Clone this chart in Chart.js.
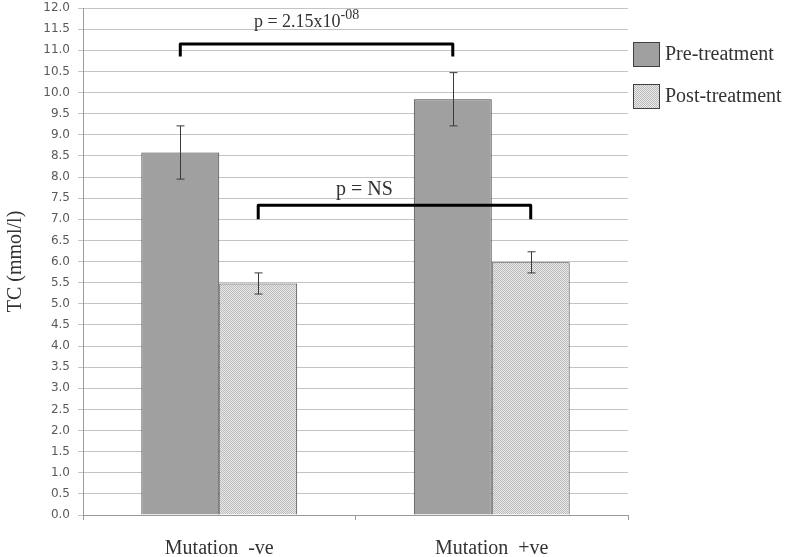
<!DOCTYPE html>
<html>
<head>
<meta charset="utf-8">
<script src="https://cdn.jsdelivr.net/npm/chart.js@4"></script>
<style>
  html, body { margin: 0; padding: 0; background: #fff; }
  #wrap { width: 790px; height: 557px; }
</style>
</head>
<body>
<div id="wrap"><canvas id="tcChart" width="790" height="557"></canvas></div>
<script>
const categories = ["Mutation  -ve", "Mutation  +ve"];
const preValues = [8.58, 9.84];
const preErrors = [0.63, 0.63];
const postValues = [5.48, 5.98];
const postErrors = [0.25, 0.25];

// significance brackets: [dataset, category] at each end, heights in mmol/l
const bracketFrom = [[0, 0], [1, 0]];
const bracketTo = [[0, 1], [1, 1]];
const bracketTop = [11.15, 7.33];
const bracketLeg = [10.85, 7.0];
const bracketText = ["p = 2.15x10", "p = NS"];
const bracketSup = ["-08", ""];
const bracketTextY = [11.66, 7.7];

const serif = "'Liberation Serif', 'Times New Roman', serif";
const sans = "'DejaVu Sans', Verdana, sans-serif";

function dotPattern() {
  const pc = document.createElement("canvas");
  pc.width = 2;
  pc.height = 2;
  const g = pc.getContext("2d");
  g.fillStyle = "#ececec";
  g.fillRect(0, 0, 2, 2);
  g.fillStyle = "#b8b8b8";
  g.fillRect(0, 0, 1, 1);
  g.fillRect(1, 1, 1, 1);
  return g.createPattern(pc, "repeat");
}

const postFill = dotPattern();

const errorBars = {
  id: "errorBars",
  afterDatasetsDraw(chart) {
    const { ctx } = chart;
    const y = chart.scales.y;
    const sets = [[preValues, preErrors], [postValues, postErrors]];
    ctx.save();
    ctx.strokeStyle = "#3a3a3a";
    ctx.lineWidth = 1;
    sets.forEach(([vals, errs], i) => {
      chart.getDatasetMeta(i).data.forEach((bar, j) => {
        const x = Math.round(bar.x) + 0.5;
        const hi = y.getPixelForValue(vals[j] + errs[j]);
        const lo = y.getPixelForValue(vals[j] - errs[j]);
        ctx.beginPath();
        ctx.moveTo(x, hi);
        ctx.lineTo(x, lo);
        ctx.moveTo(x - 4, hi);
        ctx.lineTo(x + 4, hi);
        ctx.moveTo(x - 4, lo);
        ctx.lineTo(x + 4, lo);
        ctx.stroke();
      });
    });
    ctx.restore();
  },
};

const brackets = {
  id: "brackets",
  afterDatasetsDraw(chart) {
    const { ctx } = chart;
    const y = chart.scales.y;
    ctx.save();
    bracketFrom.forEach((from, k) => {
      const to = bracketTo[k];
      const x1 = chart.getDatasetMeta(from[0]).data[from[1]].x;
      const x2 = chart.getDatasetMeta(to[0]).data[to[1]].x;
      const yt = y.getPixelForValue(bracketTop[k]);
      const yl = y.getPixelForValue(bracketLeg[k]);
      ctx.strokeStyle = "#000";
      ctx.lineWidth = 3;
      ctx.lineJoin = "round";
      ctx.beginPath();
      ctx.moveTo(x1, yl);
      ctx.lineTo(x1, yt);
      ctx.lineTo(x2, yt);
      ctx.lineTo(x2, yl);
      ctx.stroke();

      // label sits a little left of the bracket centre, as in the source figure
      const main = bracketText[k];
      const sup = bracketSup[k];
      ctx.font = (sup ? "18px " : "20px ") + serif;
      const w1 = ctx.measureText(main).width;
      ctx.font = "14px " + serif;
      const w2 = sup ? ctx.measureText(sup).width : 0;
      const shift = sup ? 10 : 30;
      const left = (x1 + x2) / 2 - shift - (w1 + w2) / 2;
      const ty = y.getPixelForValue(bracketTextY[k]);
      ctx.fillStyle = "#333";
      ctx.textBaseline = "middle";
      ctx.textAlign = "left";
      ctx.font = (sup ? "18px " : "20px ") + serif;
      ctx.fillText(main, left, ty);
      if (sup) {
        ctx.font = "14px " + serif;
        ctx.fillText(sup, left + w1, ty - 7);
      }
    });
    ctx.restore();
  },
};

const sideLegend = {
  id: "sideLegend",
  afterDraw(chart) {
    const { ctx } = chart;
    const x0 = chart.chartArea.right + 5;
    ctx.save();
    chart.data.datasets.forEach((ds, i) => {
      const top = 42 + i * 42;
      ctx.fillStyle = ds.backgroundColor;
      ctx.fillRect(x0, top, 27, 25);
      ctx.strokeStyle = "#404040";
      ctx.lineWidth = 1;
      ctx.strokeRect(x0 + 0.5, top + 0.5, 26, 24);
      ctx.fillStyle = "#333";
      ctx.font = "20px " + serif;
      ctx.textBaseline = "middle";
      ctx.fillText(ds.label, x0 + 32, top + 13);
    });
    ctx.restore();
  },
};

new Chart(document.getElementById("tcChart"), {
  type: "bar",
  data: {
    labels: categories,
    datasets: [
      {
        label: "Pre-treatment",
        data: preValues,
        backgroundColor: "#a0a0a0",
        borderColor: "#404040",
        borderWidth: 1,
      },
      {
        label: "Post-treatment",
        data: postValues,
        backgroundColor: postFill,
        borderColor: "#404040",
        borderWidth: 1,
      },
    ],
  },
  options: {
    responsive: false,
    animation: false,
    layout: { padding: { left: 0, right: 162, top: 8, bottom: 0 } },
    datasets: { bar: { categoryPercentage: 0.572, barPercentage: 1 } },
    plugins: { legend: { display: false }, tooltip: { enabled: false } },
    scales: {
      x: {
        afterFit: (s) => { s.height = 42; },
        grid: { drawOnChartArea: false, drawTicks: true, tickLength: 5, color: "#9a9a9a" },
        border: { color: "#9a9a9a" },
        ticks: { color: "#333", padding: 17, font: { family: serif, size: 20 } },
      },
      y: {
        min: 0,
        max: 12,
        afterFit: (s) => { s.width = 83; s.paddingTop = 0; s.paddingBottom = 0; },
        grid: { color: "#c4c4c4", tickLength: 5 },
        border: { color: "#9a9a9a" },
        ticks: {
          stepSize: 0.5,
          padding: 8,
          color: "#5a5a5a",
          font: { family: sans, size: 12 },
          callback: (v) => Number(v).toFixed(1),
        },
        title: {
          display: true,
          text: "TC (mmol/l)",
          color: "#333",
          font: { family: serif, size: 20 },
          padding: { top: 4, bottom: 0 },
        },
      },
    },
  },
  plugins: [errorBars, brackets, sideLegend],
});
</script>
</body>
</html>
